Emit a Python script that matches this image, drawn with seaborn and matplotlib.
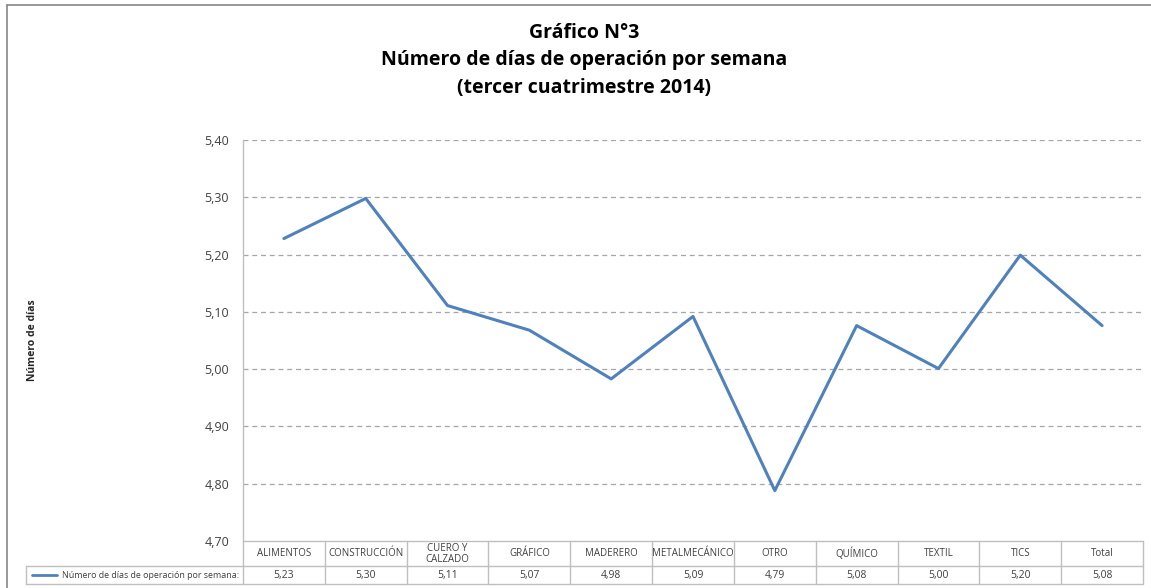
import matplotlib
matplotlib.use("Agg")
import matplotlib.pyplot as plt
import seaborn as sns
import pandas as pd

# ------------------------------
# Data
# ------------------------------
categorias = ["ALIMENTOS", "CONSTRUCCIÓN", "CUERO Y\nCALZADO", "GRÁFICO", "MADERERO",
              "METALMECÁNICO", "OTRO", "QUÍMICO", "TEXTIL", "TICS", "Total"]
dias = [5.228, 5.298, 5.111, 5.068, 4.983, 5.092, 4.788, 5.076, 5.001, 5.199, 5.076]
y_ticks = [4.70, 4.80, 4.90, 5.00, 5.10, 5.20, 5.30, 5.40]

serie = "Número de días de operación por semana"
titulo = "Gráfico N°3\nNúmero de días de operación por semana\n(tercer cuatrimestre 2014)"

df = pd.DataFrame({"pos": range(len(categorias)), "dias": dias})

sns.set_style("white")
plt.rcParams["font.family"] = ["Open Sans", "DejaVu Sans"]

W, H = 1151, 588
fig = plt.figure(figsize=(W / 100, H / 100), dpi=100)

# plot area in pixels
x0, x1 = 243, 1143
y_top, y_bot = 140, 541

ax = fig.add_axes([x0 / W, 1 - y_bot / H, (x1 - x0) / W, (y_bot - y_top) / H])
blue = "#4F81BD"
grid_c = "#A6A6A6"
line_c = "#BFBFBF"

sns.lineplot(data=df, x="pos", y="dias", ax=ax, color=blue, linewidth=2.2)
ax.set_xlim(-0.5, len(categorias) - 0.5)
ax.set_ylim(y_ticks[0], y_ticks[-1])
ax.set_yticks(y_ticks)
ax.set_yticklabels([f"{v:.2f}".replace(".", ",") for v in y_ticks], fontsize=9, color="#404040")
ax.tick_params(axis="y", length=0, pad=10)
ax.set_xticks([])
ax.set_xlabel("")
ax.set_ylabel("")
for v in y_ticks[1:]:
    ax.axhline(v, color=grid_c, linestyle=(0, (4, 3)), linewidth=0.9, zorder=0)
for s in ["top", "right", "bottom"]:
    ax.spines[s].set_visible(False)
ax.spines["left"].set_color(line_c)
ax.spines["left"].set_linewidth(1.0)

# ------------------------------
# Overlay for title, frame and data table (pixel coords)
# ------------------------------
ov = fig.add_axes([0, 0, 1, 1], zorder=5)
ov.set_xlim(0, W)
ov.set_ylim(H, 0)
ov.axis("off")
ov.patch.set_alpha(0)

# chart frame
ov.plot([7, 7], [5, H], color="#868686", linewidth=1.2)
ov.plot([7, W], [5, 5], color="#868686", linewidth=1.2)

ov.text(584, 23, titulo, ha="center", va="top", fontsize=14, fontweight="bold",
        linespacing=1.5, color="black")
ov.text(33, 340, "Número de días", rotation=90, ha="center", va="center",
        fontsize=7.5, fontweight="bold")

# table
r0, r1, r2 = y_bot, 566, 584
col_w = (x1 - x0) / len(categorias)
ov.plot([x0, x1], [r0, r0], color=line_c, linewidth=1)
ov.plot([26, x1], [r1, r1], color=line_c, linewidth=1)
ov.plot([26, x1], [r2, r2], color=line_c, linewidth=1)
ov.plot([26, 26], [r1, r2], color=line_c, linewidth=1)
for i in range(len(categorias) + 1):
    xx = x0 + i * col_w
    ov.plot([xx, xx], [r0, r2], color=line_c, linewidth=1)
for i, (c, v) in enumerate(zip(categorias, dias)):
    cx = x0 + (i + 0.5) * col_w
    ov.text(cx, (r0 + r1) / 2 + 0.5, c, ha="center", va="center", fontsize=7,
            linespacing=1.1, color="#404040")
    ov.text(cx, (r1 + r2) / 2 + 0.5, f"{v:.2f}".replace(".", ","), ha="center",
            va="center", fontsize=7.5, color="#404040")

ov.plot([32, 57], [(r1 + r2) / 2, (r1 + r2) / 2], color=blue, linewidth=2)
ov.text(62, (r1 + r2) / 2 + 0.5, serie + ":", ha="left", va="center",
        fontsize=6.4, color="#404040")

fig.savefig("out.png", dpi=100, facecolor="white")
